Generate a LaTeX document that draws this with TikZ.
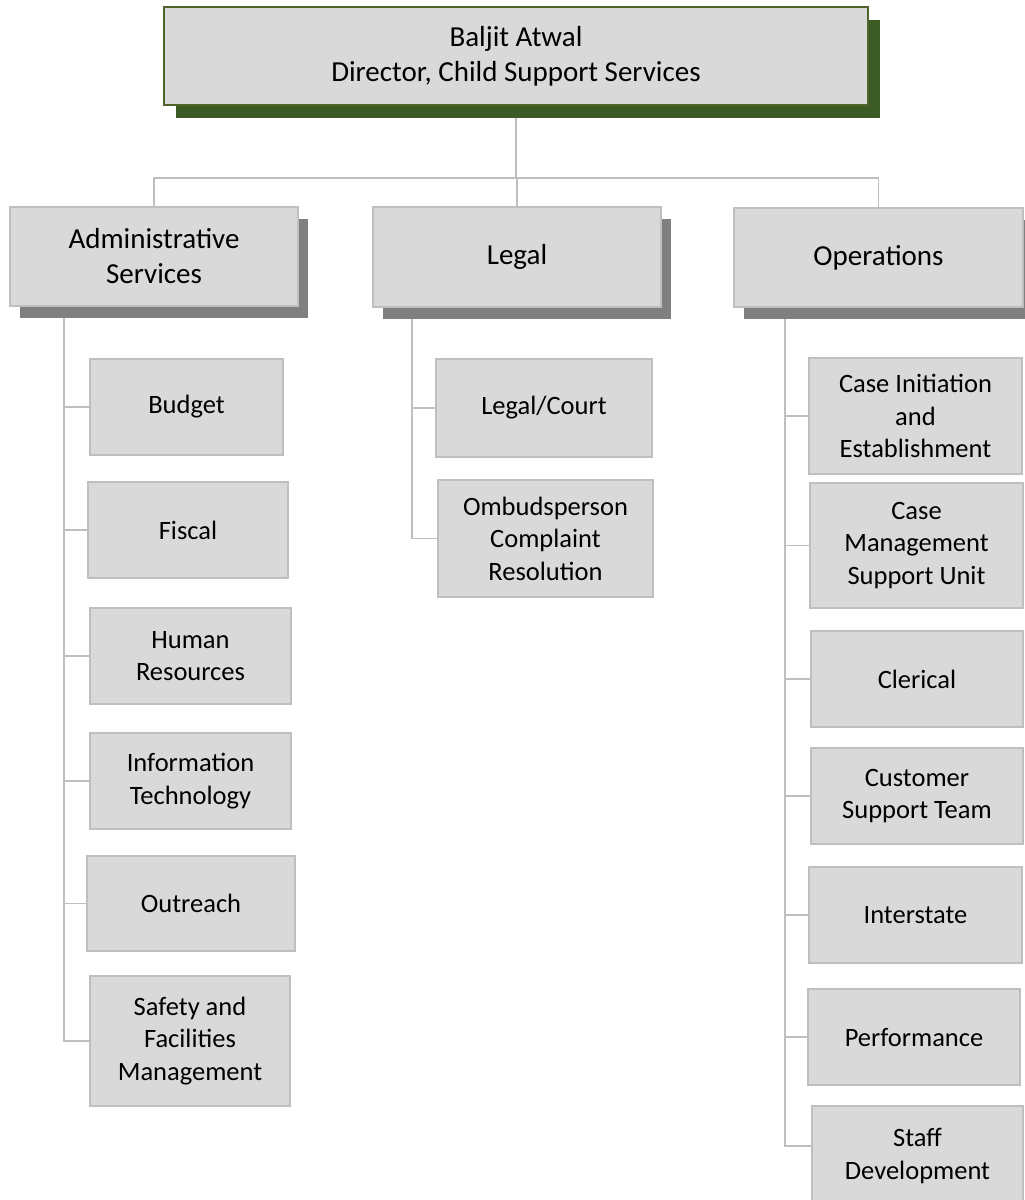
\documentclass[tikz,border=0pt]{standalone}
\usepackage{fontspec}
\setmainfont{Carlito}
\usetikzlibrary{shadows,backgrounds}

\definecolor{boxfill}{HTML}{D9D9D9}
\definecolor{leafline}{HTML}{BFBFBF}
\definecolor{linkgray}{HTML}{BFBFBF}
\definecolor{shadowgray}{HTML}{808080}
\definecolor{topline}{HTML}{4F6228}
\definecolor{topshadow}{HTML}{3B5A24}

\begin{document}
\begin{tikzpicture}[x=1pt,y=-1pt,
  wh/.style 2 args={minimum width=#1pt, minimum height=#2pt},
  basebox/.style={rectangle, fill=boxfill, inner sep=0pt, align=center, text=black},
  topbox/.style={basebox, draw=topline, line width=1.3pt,
    font=\fontsize{29}{35}\selectfont,
    drop shadow={shadow xshift=12pt, shadow yshift=-13pt, fill=topshadow, opacity=1}},
  headbox/.style={basebox, draw=leafline, line width=1.3pt,
    font=\fontsize{29}{35}\selectfont,
    drop shadow={shadow xshift=10pt, shadow yshift=-12pt, fill=shadowgray, opacity=1}},
  leafbox/.style={basebox, draw=leafline, line width=1.3pt,
    font=\fontsize{26.5}{32.5}\selectfont},
  link/.style={draw=linkgray, line width=1.8pt}]

\useasboundingbox (0,0) rectangle (1025,1200);
\clip (0,0) rectangle (1025,1200);

% director
\node[topbox, wh={704}{98}] (dir) at (516,56) {Baljit Atwal\\Director, Child Support Services};

% divisions
\node[headbox, wh={288}{99}] (adm) at (154,256.5) {Administrative\\Services};
\node[headbox, wh={288}{100}] (leg) at (517,257) {Legal};
\node[headbox, wh={289}{99}] (ops) at (878.5,257.5) {Operations};

% administrative services units
\node[leafbox, wh={193}{96}] (budget) at (186.5,407) {Budget};
\node[leafbox, wh={200}{96}] (fiscal) at (188,530) {Fiscal};
\node[leafbox, wh={201}{96}] (hr) at (190.5,656) {Human\\Resources};
\node[leafbox, wh={201}{96}] (it) at (190.5,781) {Information\\Technology};
\node[leafbox, wh={208}{95}] (outreach) at (191,903.5) {Outreach};
\node[leafbox, wh={200}{130}] (safety) at (190,1041) {Safety and\\Facilities\\Management};

% legal units
\node[leafbox, wh={216}{98}] (court) at (544,408) {Legal/Court};
\node[leafbox, wh={215}{117}] (ombud) at (545.5,538.5) {Ombudsperson\\Complaint\\Resolution};

% operations units
\node[leafbox, wh={213}{116}] (init) at (915.5,416) {Case Initiation\\and\\Establishment};
\node[leafbox, wh={213}{125}] (cmsu) at (916.5,545.5) {Case\\Management\\Support Unit};
\node[leafbox, wh={212}{96}] (clerical) at (917,679) {Clerical};
\node[leafbox, wh={212}{96}] (custsup) at (917,796) {Customer\\Support Team};
\node[leafbox, wh={213}{96}] (inter) at (915.5,915) {Interstate};
\node[leafbox, wh={212}{96}] (perf) at (914,1037) {Performance};
\node[leafbox, wh={211}{100}] (staff) at (917.5,1156) {Staff\\Development};

% spine positions
\coordinate (bus) at (518,178);
\coordinate (aspine) at (64,0);
\coordinate (lspine) at (412,0);
\coordinate (ospine) at (785,0);

\begin{scope}[on background layer]
  % top level tree
  \draw[link] (dir.south) -- (dir.south |- bus);
  \draw[link] (adm.north) -- (adm.north |- bus) -- (ops.north |- bus) -- (ops.north);
  \draw[link] (leg.north) -- (leg.north |- bus);

  % administrative services
  \draw[link] (aspine |- adm.south) |- (safety.west);
  \foreach \n in {budget,fiscal,hr,it,outreach}
    \draw[link] (aspine |- \n.west) -- (\n.west);

  % legal
  \draw[link] (lspine |- leg.south) |- (ombud.west);
  \draw[link] (lspine |- court.west) -- (court.west);

  % operations
  \draw[link] (ospine |- ops.south) |- ([yshift=10pt]staff.west);
  \foreach \n in {init,cmsu,clerical,custsup,inter,perf}
    \draw[link] (ospine |- \n.west) -- (\n.west);
\end{scope}
\end{tikzpicture}
\end{document}
